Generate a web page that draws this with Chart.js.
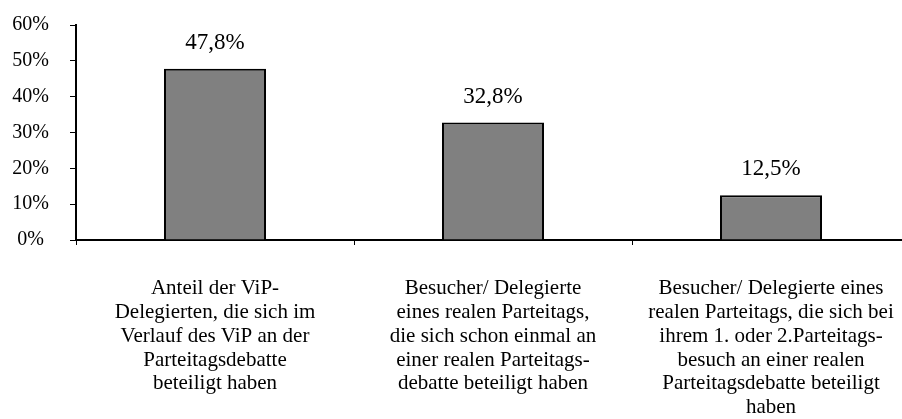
<!DOCTYPE html>
<html><head><meta charset="utf-8">
<script src="https://cdn.jsdelivr.net/npm/chart.js@4"></script>
<style>
html,body{margin:0;padding:0;overflow:hidden;background:#fff;width:902px;height:419px}
canvas{display:block}
</style></head>
<body>
<canvas id="c" width="912" height="419" style="width:912px;height:419px"></canvas>
<script>
const categories = [
  ["Anteil der ViP-", "Delegierten, die sich im", "Verlauf des ViP an der", "Parteitagsdebatte", "beteiligt haben"],
  ["Besucher/ Delegierte", "eines realen Parteitags,", "die sich schon einmal an", "einer realen Parteitags-", "debatte beteiligt haben"],
  ["Besucher/ Delegierte eines", "realen Parteitags, die sich bei", "ihrem 1. oder 2.Parteitags-", "besuch an einer realen", "Parteitagsdebatte beteiligt", "haben"]
];
const values = [47.8, 32.8, 12.5];
const valueLabels = ["47,8%", "32,8%", "12,5%"];
const yMin = 0, yMax = 60, yStep = 10;

const FONT = "'Liberation Serif', 'Times New Roman', serif";

const valueLabelPlugin = {
  id: 'valueLabels',
  afterDatasetsDraw(chart) {
    const ctx = chart.ctx;
    const meta = chart.getDatasetMeta(0);
    ctx.save();
    ctx.font = "23px " + FONT;
    ctx.fillStyle = "#000";
    ctx.textAlign = "center";
    ctx.textBaseline = "middle";
    meta.data.forEach((el, i) => {
      ctx.fillText(valueLabels[i], el.x, el.y - 26);
    });
    ctx.restore();
  }
};

new Chart(document.getElementById('c'), {
  type: 'bar',
  data: {
    labels: categories,
    datasets: [{
      data: values,
      backgroundColor: '#808080',
      borderColor: '#000',
      borderWidth: 2,
      borderSkipped: 'bottom',
      barPercentage: 0.367,
      categoryPercentage: 1
    }]
  },
  options: {
    responsive: false,
    animation: false,
    devicePixelRatio: 1,
    layout: { padding: { left: 10, right: 2, top: 25, bottom: 0 } },
    plugins: { legend: { display: false }, tooltip: { enabled: false } },
    scales: {
      x: {
        offset: true,
        grid: { offset: true, drawOnChartArea: false, drawTicks: true, tickLength: 5, color: '#000', lineWidth: 1 },
        border: { display: true, color: '#000', width: 2 },
        ticks: {
          color: '#000',
          font: { family: FONT, size: 21, lineHeight: 1.13 },
          padding: 32,
          maxRotation: 0,
          autoSkip: false
        },
        afterFit(scale) { scale.height = 179; scale.paddingLeft = 0; scale.paddingRight = 0; }
      },
      y: {
        min: yMin, max: yMax,
        grid: { drawOnChartArea: false, drawTicks: true, tickLength: 6, color: '#000', lineWidth: 1 },
        border: { display: true, color: '#000', width: 2 },
        ticks: {
          stepSize: yStep,
          color: '#000',
          font: { family: FONT, size: 20 },
          padding: 21,
          crossAlign: 'center',
          callback: v => v + '%'
        },
        afterFit(scale) { scale.width = 66; scale.paddingTop = 0; scale.paddingBottom = 0; }
      }
    }
  },
  plugins: [valueLabelPlugin]
});
</script>
</body></html>
